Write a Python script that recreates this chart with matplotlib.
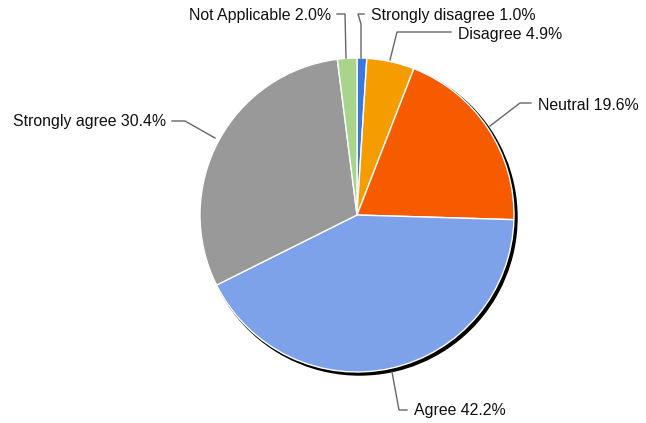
import matplotlib
matplotlib.use("Agg")
import matplotlib.pyplot as plt
import numpy as np
from matplotlib.patches import Circle

labels = ["Strongly disagree", "Disagree", "Neutral", "Agree", "Strongly agree", "Not Applicable"]
values = [1.0, 4.9, 19.6, 42.2, 30.4, 2.0]
colors = ["#3a78e0", "#f59d00", "#f75b00", "#7ea2ea", "#999999", "#a8d48c"]

W, H = 646, 423
fig = plt.figure(figsize=(W / 100, H / 100), dpi=100)
ax = fig.add_axes([0, 0, 1, 1])

cx, cy, r = 357, H - 215, 157
ax.add_patch(Circle((cx + 2.5, cy - 2.5), r + 0.5, color="black", zorder=1))
ax.pie(values, colors=colors, startangle=90, counterclock=False, center=(cx, cy),
       radius=r, wedgeprops=dict(edgecolor="white", linewidth=1, zorder=2),
       frame=True)
ax.set_xlim(0, W)
ax.set_ylim(0, H)
ax.set_aspect("equal")
ax.axis("off")

# leader lines (pixel coords: x, y from top) and label anchors
leaders = {
    "Strongly disagree": ([(361, 58), (361, 24), (358, 14), (364, 14)], (371, 15), "left"),
    "Disagree": ([(390, 60), (397, 32), (451, 32)], (458, 34), "left"),
    "Neutral": ([(490, 126), (520, 103), (531, 103)], (538, 105), "left"),
    "Agree": ([(392, 372), (399, 410), (407, 410)], (414, 411), "left"),
    "Strongly agree": ([(215, 138), (185, 121), (172, 121)], (166, 121), "right"),
    "Not Applicable": ([(346, 58), (345, 14), (337, 14)], (331, 15), "right"),
}
for lab, val in zip(labels, values):
    pts, (tx, ty), ha = leaders[lab]
    xs = [p[0] for p in pts]
    ys = [H - p[1] for p in pts]
    ax.plot(xs, ys, color="#666666", lw=1, zorder=3)
    ax.text(tx, H - ty, f"{lab} {val:.1f}%", ha=ha, va="center",
            fontsize=11.4, family="Liberation Sans", color="#111111")

fig.savefig("out.png", dpi=100)
